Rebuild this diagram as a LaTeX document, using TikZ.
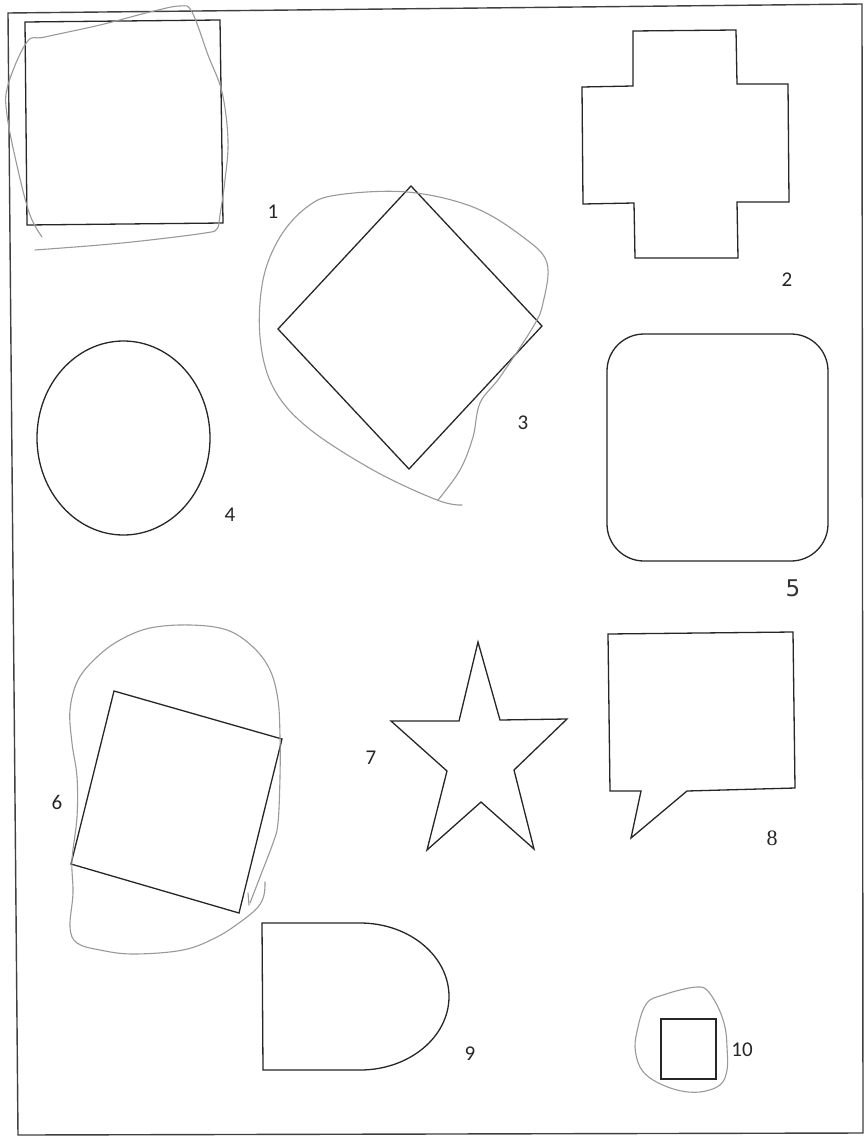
\documentclass[tikz,border=0pt]{standalone}
\usepackage{fontspec}
\setmainfont{Carlito}
\newfontfamily\serifnum{Liberation Serif}
\newfontfamily\fivefont{DejaVu Sans}
\begin{document}
\begin{tikzpicture}[x=1pt,y=-1pt,
  ink/.style={draw=black!85,line width=1.3pt,line join=miter},
  handgray/.style={draw=black!40,line width=1.1pt,line cap=round,line join=round},
  framestyle/.style={draw=black!75,line width=1.4pt},
  lbl/.style={inner sep=0pt,font=\fontsize{21}{23}\selectfont,text=black!85}]
\useasboundingbox (0,0) rectangle (864,1137);
\fill[white] (0,0) rectangle (864,1137);
% page frame
\draw[framestyle] (8,13) -- (862,4) -- (863,1133) -- (18,1135) -- cycle;
% 1: square with hand loop
\draw[ink] (25,22) -- (220,20) -- (223,223) -- (27,225) -- cycle;
\draw[handgray] plot[smooth,tension=0.6] coordinates {(42,237) (30,215) (18,170) (7,115) (8,85) (27,42) (45,37) (100,25) (150,12) (180,6) (192,12) (208,55) (222,92) (228,140) (225,180) (220,215) (217,229) (205,233) (150,240) (100,245) (35,250)};
\node[lbl] (l1) at (273,212) {1};
% 3: diamond with hand loop
\draw[ink] (411,186) -- (542,326) -- (409,469) -- (278,329) -- cycle;
\draw[handgray] plot[smooth,tension=0.6] coordinates {(462,505) (437,500) (373,470) (307,427) (273,387) (260,337) (263,280) (280,237) (307,207) (337,195) (407,192) (473,207) (523,237) (547,263) (543,303) (533,327) (500,377) (480,403) (473,437) (460,470) (438,500)};
\node[lbl] (l3) at (523,423) {3};
% 2: cross
\draw[ink] (633,31) -- (736,30) -- (737,84) -- (788,84) -- (789,202) -- (737,202) -- (738,258) -- (635,258) -- (634,203) -- (583,204) -- (582,87) -- (633,86) -- cycle;
\node[lbl] (l2) at (787,280) {2};
% 4: ellipse
\draw[ink] (123.5,438) ellipse [x radius=86.5,y radius=97];
\node[lbl] (l4) at (230,515) {4};
% 5: rounded square
\draw[ink,rounded corners=37pt] (607,334) rectangle (828,561);
\node[inner sep=0pt,font=\fivefont\fontsize{23}{25}\selectfont,text=black!80] (l5) at (793,588) {5};
% 6: tilted square with hand loop
\draw[ink] (114,691) -- (282,739) -- (239,913) -- (71,864) -- cycle;
\draw[handgray] plot[smooth,tension=0.6] coordinates {(250,903) (260,877) (273,843) (278,823) (280,777) (280,737) (278,700) (270,670) (253,647) (227,630) (190,625) (150,628) (120,640) (97,657) (78,680) (70,710) (72,743) (77,777) (77,817) (72,860) (73,893) (70,927) (77,943) (100,950) (133,954) (183,950) (217,937) (243,920) (258,907) (264,895) (265,882)};
\draw[handgray] (248,893) -- (249,905);
\node[lbl] (l6) at (57,802) {6};
% 7: star
\draw[ink] (478,642) -- (500,720) -- (567,719) -- (514,770) -- (534,849) -- (481,802) -- (427,850) -- (447,771) -- (391,721) -- (459,721) -- cycle;
\node[lbl] (l7) at (371,758) {7};
% 8: speech bubble
\draw[ink] (608,634) -- (793,632) -- (795,788) -- (687,791) -- (631,838) -- (641,791) -- (610,791) -- cycle;
\node[inner sep=0pt,font=\serifnum\fontsize{22}{24}\selectfont,text=black!85] (l8) at (772,838) {8};
% 9: D shape
\draw[ink] (262,923) -- (360,923) arc[start angle=-90,end angle=90,x radius=89,y radius=73.5] -- (263,1070) -- cycle;
\node[lbl] (l9) at (470,1054) {9};
% 10: small square with hand loop
\draw[ink] (661,1019) rectangle (716,1079);
\draw[handgray] plot[smooth cycle,tension=0.6] coordinates {(638,1027) (635,1047) (640,1067) (653,1080) (677,1090) (700,1092) (720,1085) (727,1070) (727,1047) (725,1027) (718,1007) (707,990) (697,987) (680,990) (663,995) (650,1000) (643,1010)};
\node[lbl] (l10) at (742,1050) {10};
\end{tikzpicture}
\end{document}
